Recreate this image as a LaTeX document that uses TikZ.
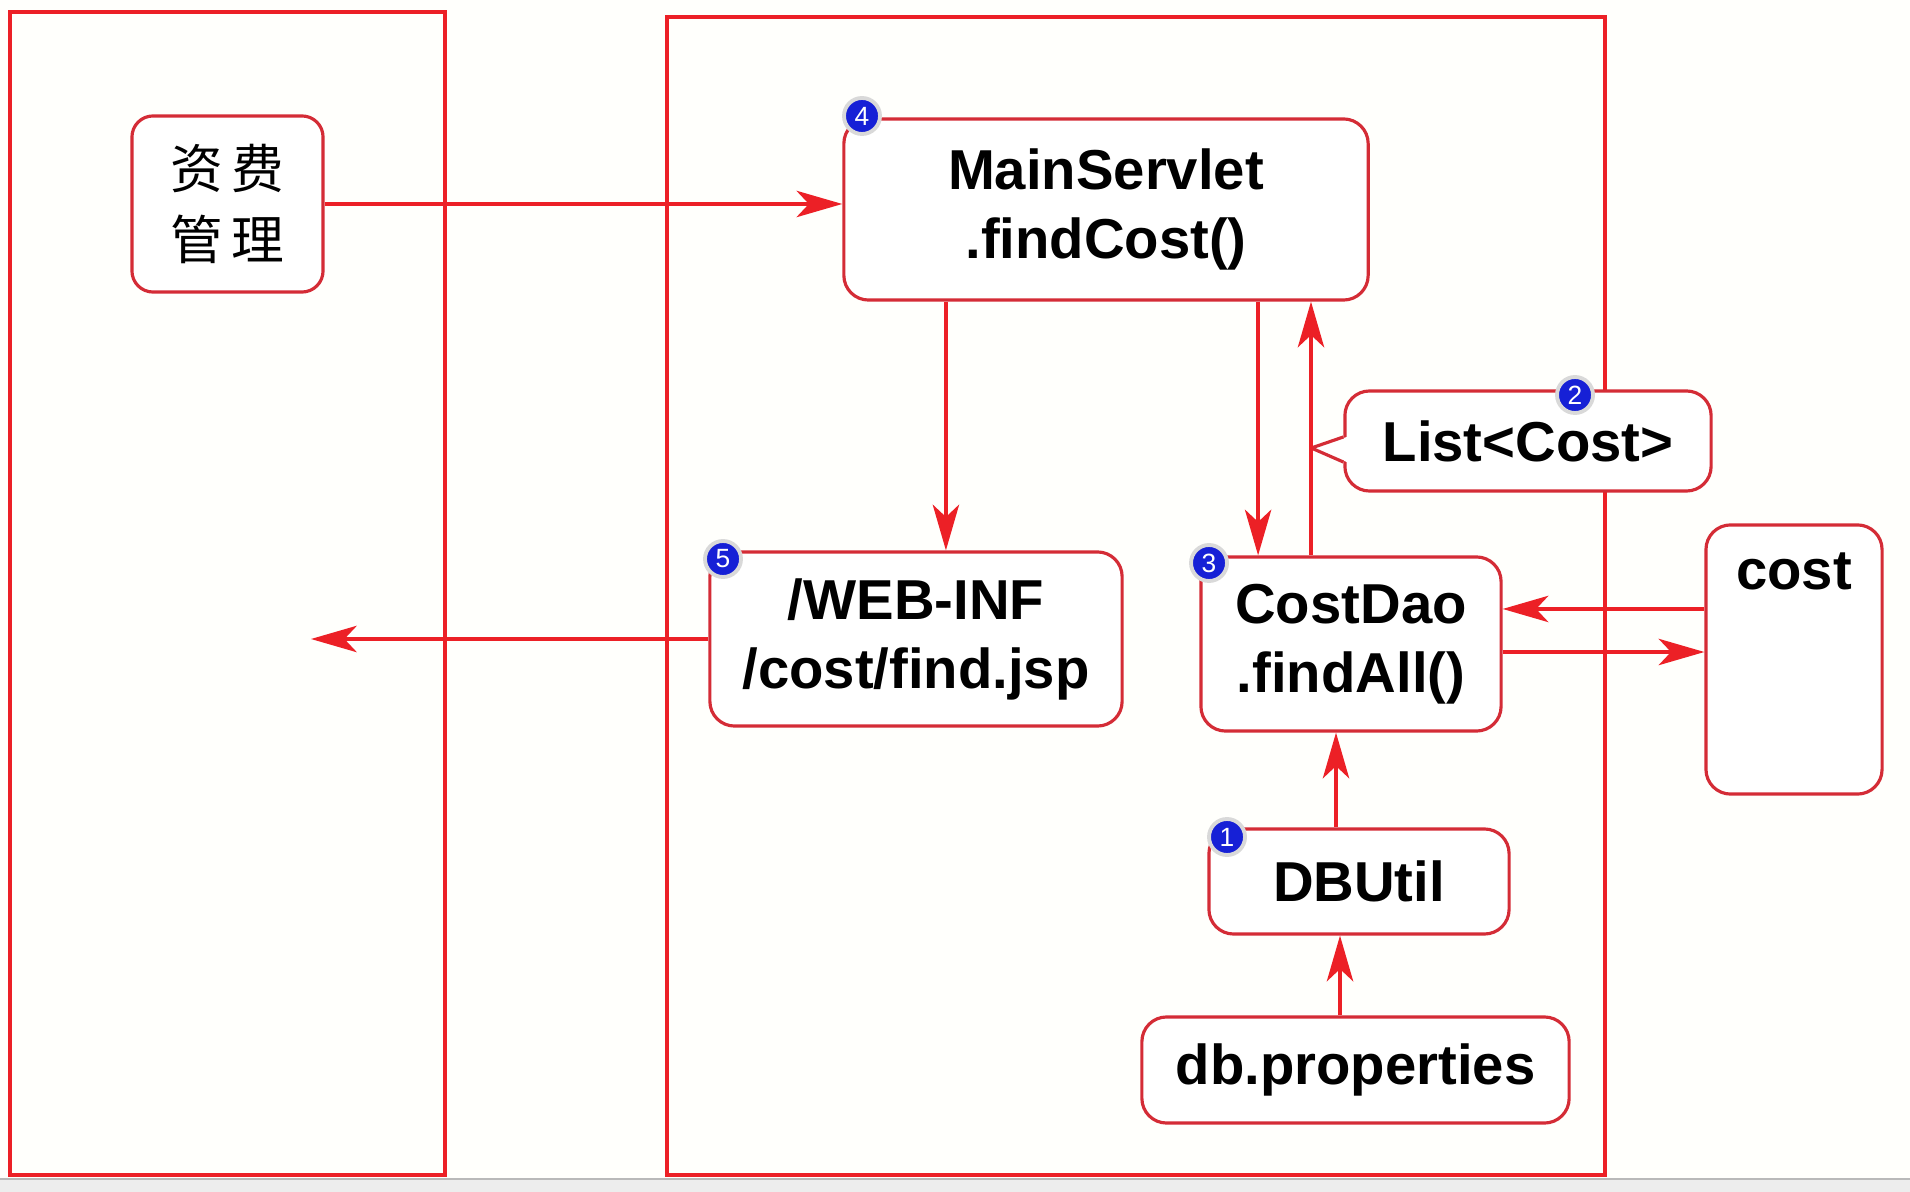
\documentclass[tikz,border=0pt]{standalone}
\usepackage{fontspec}
\setmainfont{Liberation Sans}
\newfontfamily\cjk{Noto Sans CJK SC}
\usetikzlibrary{arrows.meta,calc}
\definecolor{lred}{RGB}{236,32,38}
\definecolor{bred}{RGB}{212,44,54}
\definecolor{bblue}{RGB}{22,32,214}
\begin{document}
\begin{tikzpicture}[x=0.01cm,y=-0.01cm,
  frame/.style={draw=lred,line width=1.3pt},
  box/.style={draw=bred,line width=0.9pt,fill=white,rounded corners=7pt,inner sep=0pt,align=center,font=\bfseries\fontsize{16}{19.6}\selectfont},
  arr/.style={draw=lred,line width=1pt,-{Stealth[length=13pt,width=7.5pt,inset=3.5pt]}},
  badge/.style={circle,fill=bblue,draw=white!70!gray,line width=1.1pt,minimum size=0.36cm,inner sep=0pt,text=white,font=\fontsize{7.5}{7.5}\selectfont}]
\useasboundingbox (0,0) rectangle (1910,1192);
\fill[white!99!yellow] (0,0) rectangle (1910,1192);
% bottom scrollbar strip
\fill[gray!14] (0,1179) rectangle (1910,1192);
\draw[gray!55,line width=0.5pt] (0,1179) -- (1910,1179);
% frames
\draw[frame] (10,12) rectangle (445,1175);
\draw[frame] (667,17) rectangle (1605,1175);
% nodes
\node[box,minimum width=1.91cm,minimum height=1.76cm,rounded corners=6pt,font=\cjk\fontsize{15}{20.2}\selectfont] (zf) at (227.5,204) {资\hspace{2.5pt}费\\管\hspace{2.5pt}理};
\node[box,minimum width=5.24cm,minimum height=1.81cm] (ms) at (1106,209.5) {MainServlet\\.findCost()};
\node[box,minimum width=4.12cm,minimum height=1.74cm] (web) at (916,639) {/WEB-INF\\/cost/find.jsp};
\node[box,minimum width=3.00cm,minimum height=1.74cm] (dao) at (1351,644) {CostDao\\.findAll()};
\node[box,minimum width=3.66cm,minimum height=1.00cm] (list) at (1528,441) {List<Cost>};
\node[box,minimum width=1.76cm,minimum height=2.69cm,label={[anchor=center,yshift=-0.48cm,font=\bfseries\fontsize{16}{19.6}\selectfont]north:cost}] (cost) at (1794,659.5) {};
\node[box,minimum width=3.00cm,minimum height=1.05cm] (dbu) at (1359,881.5) {DBUtil};
\node[box,minimum width=4.27cm,minimum height=1.06cm] (dbp) at (1355.5,1070) {db.properties};
% callout pointer of List<Cost>
\fill[white] ([xshift=0.035cm,yshift=0.04cm]list.west) -- ([xshift=-0.32cm,yshift=-0.07cm]list.west) -- ([xshift=0.035cm,yshift=-0.21cm]list.west) -- cycle;
\draw[draw=bred,line width=0.9pt,line join=round] ([yshift=0.04cm]list.west) -- ([xshift=-0.32cm,yshift=-0.07cm]list.west) -- ([yshift=-0.21cm]list.west);
% connectors
\coordinate (out) at (311,639);
\draw[arr] (zf.east) -- (zf.east -| ms.west);
\draw[arr] ([xshift=-1.6cm]ms.south) -- ([xshift=-1.6cm]ms.south |- web.north);
\draw[arr] ([xshift=1.52cm]ms.south) -- ([xshift=1.52cm]ms.south |- dao.north);
\draw[arr] ([xshift=-0.4cm]dao.north) -- ([xshift=-0.4cm]dao.north |- ms.south);
\draw[arr] (web.west) -- (out);
\draw[arr] ([yshift=0.505cm]cost.west) -- ([yshift=0.505cm]cost.west -| dao.east);
\draw[arr] ([yshift=-0.08cm]dao.east) -- ([yshift=-0.08cm]dao.east -| cost.west);
\draw[arr] ([xshift=-0.23cm]dbu.north) -- ([xshift=-0.23cm]dbu.north |- dao.south);
\draw[arr] ([xshift=-0.155cm]dbp.north) -- ([xshift=-0.155cm]dbp.north |- dbu.south);
% badges
\node[badge] (b4) at (862,116) {4};
\node[badge] (b5) at (723,559) {5};
\node[badge] (b3) at (1209,563) {3};
\node[badge] (b2) at (1575,395) {2};
\node[badge] (b1) at (1227,837) {1};
\end{tikzpicture}
\end{document}
